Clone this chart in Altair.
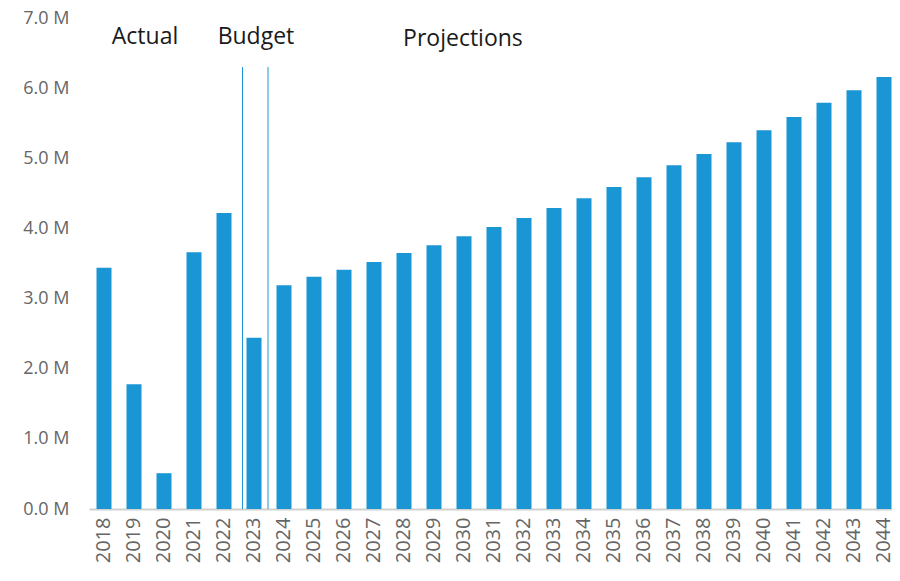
import altair as alt
import pandas as pd

years = [str(y) for y in range(2018, 2045)]
values_m = [3.44, 1.78, 0.51, 3.66, 4.22, 2.44, 3.19, 3.31, 3.41, 3.52, 3.65, 3.76,
            3.89, 4.02, 4.15, 4.29, 4.43, 4.59, 4.73, 4.90, 5.06, 5.23, 5.40, 5.59,
            5.79, 5.97, 6.16]

section_labels = ["Actual", "Budget", "Projections"]
section_years = ["2019", "2023", "2030"]
divider_years = ["2023", "2023"]

df = pd.DataFrame({"year": years, "value": values_m})

BLUE = "#1a96d5"
FONT = "Open Sans"

xscale = alt.Scale(paddingInner=0.5, paddingOuter=0.25, range=[0, 810])
yscale = alt.Scale(domain=[0, 7])

bars = alt.Chart(df).mark_bar(color=BLUE).encode(
    x=alt.X("year:N", sort=years, scale=xscale, title=None,
            axis=alt.Axis(labelAngle=-90, ticks=False, domainColor="#d0d0d0",
                          labelColor="#666666", labelFont=FONT, labelFontSize=20,
                          labelPadding=8, domainWidth=2)),
    y=alt.Y("value:Q", scale=yscale, title=None,
            axis=alt.Axis(values=[0, 1, 2, 3, 4, 5, 6, 7], domain=False, ticks=False,
                          grid=False, labelExpr="format(datum.value, '.1f') + ' M'",
                          labelColor="#666666", labelFont=FONT, labelFontSize=18,
                          labelPadding=20)),
)


def divider(i, band, off):
    d = pd.DataFrame({"year": [divider_years[i]], "top": [6.3], "bottom": [0.0]})
    return alt.Chart(d).mark_rule(color=BLUE, strokeWidth=1, xOffset=off).encode(
        x=alt.X("year:N", sort=years, scale=xscale, bandPosition=band),
        y=alt.Y("bottom:Q", scale=yscale),
        y2="top:Q",
    )


def label(i, band, off, yv):
    d = pd.DataFrame({"year": [section_years[i]], "label": [section_labels[i]]})
    return alt.Chart(d).mark_text(font=FONT, fontSize=23, color="#1a1a1a",
                                  baseline="middle", align="center", xOffset=off).encode(
        x=alt.X("year:N", sort=years, scale=xscale, bandPosition=band),
        y=alt.Y(datum=yv, scale=yscale),
        text="label:N",
    )


chart = alt.layer(
    bars,
    divider(0, 0.0, -4),
    divider(1, 1.0, 6.5),
    label(0, 1.0, 3.5, 6.73),
    label(1, 0.63, 0, 6.73),
    label(2, 0.43, 0, 6.70),
).properties(
    width=803, height=491,
    autosize=alt.AutoSizeParams(type="none"),
    padding={"left": 81, "top": 10, "right": 0, "bottom": 58},
).configure_view(stroke=None)

chart.save("out.html", embed_options={"renderer": "svg", "actions": False})
